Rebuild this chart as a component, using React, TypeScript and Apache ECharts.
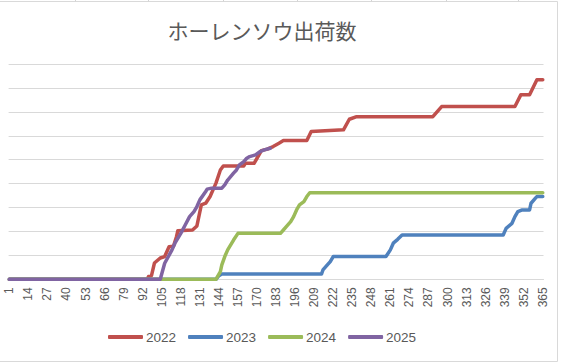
import React, { useEffect, useRef } from "react";
import * as echarts from "echarts";

const TITLE = "ホーレンソウ出荷数";
const DAYS: string[] = Array.from({ length: 365 }, (_, i) => String(i + 1));
const SERIES_NAMES = ["2022", "2023", "2024", "2025"];
const COLORS = ["#C0504D", "#4F81BD", "#9BBB59", "#8064A2"];

// [day, cumulative value] (units = gridlines)
const s2022: [number, number][] = [
  [1, 0], [95, 0], [96, 0.12], [98, 0.15], [100, 0.68], [104, 0.89], [107, 0.95], [110, 1.36],
  [113, 1.38], [115, 1.77], [116, 2.03], [126, 2.06], [129, 2.23], [132, 3.11], [135, 3.18],
  [138, 3.46], [142, 4.02], [145, 4.57], [147, 4.74], [161, 4.74], [162, 4.85], [168, 4.85],
  [170, 5.06], [173, 5.38], [177, 5.44], [181, 5.55], [185, 5.69], [188, 5.8], [204, 5.8],
  [207, 6.18], [229, 6.25], [233, 6.69], [238, 6.8], [290, 6.8], [296, 7.22], [346, 7.22],
  [350, 7.71], [356, 7.71], [361, 8.34], [365, 8.34],
];
const s2023: [number, number][] = [
  [1, 0], [142, 0], [144, 0.15], [146, 0.22], [214, 0.22], [215, 0.39], [218, 0.6], [220, 0.74],
  [222, 0.95], [258, 0.95], [261, 1.23], [263, 1.51], [266, 1.67], [269, 1.85], [338, 1.85],
  [340, 2.13], [344, 2.34], [346, 2.62], [348, 2.83], [351, 2.9], [356, 2.9], [357, 3.18],
  [360, 3.39], [361, 3.46], [365, 3.46],
];
const s2024: [number, number][] = [
  [1, 0], [142, 0], [145, 0.32], [146, 0.6], [148, 0.95], [150, 1.23], [154, 1.64], [157, 1.92],
  [186, 1.92], [188, 2.06], [190, 2.2], [193, 2.41], [195, 2.62], [197, 2.9], [199, 3.11],
  [202, 3.25], [204, 3.46], [206, 3.62], [365, 3.62],
];
const s2025: [number, number][] = [
  [1, 0], [104, 0], [107, 0.67], [112, 1.23], [114, 1.51], [118, 1.92], [121, 2.27], [124, 2.62],
  [127, 2.83], [129, 3.04], [131, 3.32], [135, 3.67], [136, 3.77], [139, 3.81], [146, 3.81],
  [148, 3.95], [150, 4.15], [154, 4.44], [156, 4.57], [158, 4.78], [161, 4.92], [163, 5.06],
  [165, 5.13], [169, 5.2], [172, 5.34], [175, 5.41], [179, 5.48],
];
const SERIES_DATA = [s2022, s2023, s2024, s2025];
const CELL_LINES_X = [75, 148, 223, 297, 371, 446, 518];

export default function App() {
  const ref = useRef<HTMLDivElement>(null);
  useEffect(() => {
    if (!ref.current) return;
    const chart = echarts.init(ref.current, null, { renderer: "svg" });
    chart.setOption({
      animation: false,
      backgroundColor: "#ffffff",
      title: {
        text: TITLE,
        left: 262,
        top: 19,
        textAlign: "center",
        padding: 0,
        textStyle: {
          fontFamily: "Noto Sans CJK JP",
          fontSize: 21,
          fontWeight: "normal",
          color: "#595959",
        },
      },
      legend: {
        data: SERIES_NAMES,
        left: 108,
        top: 330,
        orient: "horizontal",
        icon: "roundRect",
        itemWidth: 35,
        itemHeight: 4,
        itemGap: 12,
        padding: 0,
        textStyle: { fontFamily: "Liberation Sans", fontSize: 13.5, color: "#595959", padding: [0, 0, 0, -2] },
        selectedMode: false,
      },
      grid: { left: 8.6, right: 19.5, top: 64, bottom: 82.7, containLabel: false },
      xAxis: {
        type: "category",
        data: DAYS,
        boundaryGap: true,
        axisLine: { lineStyle: { color: "#d9d9d9", width: 1 } },
        axisTick: { show: false },
        axisLabel: {
          interval: 12,
          rotate: 90,
          margin: 8,
          fontFamily: "Liberation Sans",
          fontSize: 12,
          color: "#595959",
        },
        splitLine: { show: false },
      },
      yAxis: {
        type: "value",
        min: 0,
        max: 9,
        interval: 1,
        axisLine: { show: false },
        axisTick: { show: false },
        axisLabel: { show: false },
        splitLine: { lineStyle: { color: "#d9d9d9", width: 1 } },
      },
      series: SERIES_NAMES.map((name, i) => ({
        name,
        type: "line",
        data: SERIES_DATA[i].map(([d, v]) => [d - 1, v]),
        showSymbol: false,
        symbol: "none",
        color: COLORS[i],
        lineStyle: { width: 3.5, color: COLORS[i], cap: "round", join: "round" },
        z: 2 + i,
      })),
      graphic: [
        {
          type: "rect",
          shape: { x: -1, y: 1.5, width: 558.5, height: 360 },
          style: { fill: "none", stroke: "#d9d9d9", lineWidth: 1 },
          silent: true,
        },
        ...CELL_LINES_X.map((x) => ({
          type: "line",
          shape: { x1: x + 0.5, y1: 0, x2: x + 0.5, y2: 1.5 },
          style: { stroke: "#d4d4d4", lineWidth: 1 },
          silent: true,
        })),
      ],
    });
    return () => chart.dispose();
  }, []);
  return (
    <div
      ref={ref}
      style={{ position: "absolute", left: 0, top: 0, width: 563, height: 362 }}
    />
  );
}
